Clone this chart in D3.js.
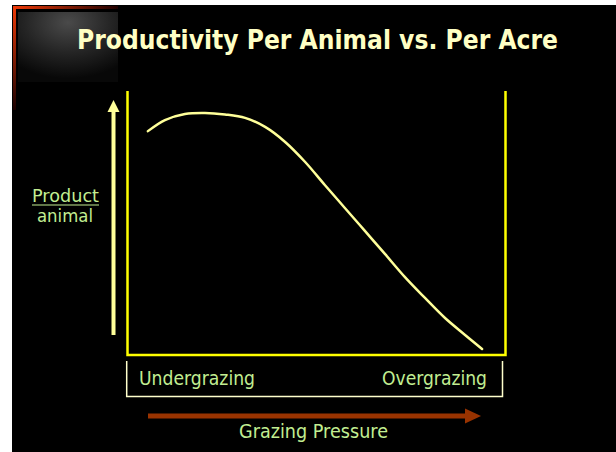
<!DOCTYPE html>
<html>
<head>
<meta charset="utf-8">
<script src="https://cdn.jsdelivr.net/npm/d3@7"></script>
<style>
  body { margin: 0; background: #fff; }
  svg { display: block; }
</style>
</head>
<body>
<div id="chart"></div>
<script>
// Chart data
var titleText = "Productivity Per Animal vs. Per Acre";
var pressure = [5.4, 9.9, 15.2, 20.5, 25.8, 31.1, 36.4, 41.7, 47.0, 52.2, 57.5, 62.8, 68.1, 73.4, 78.7, 84.0, 89.3, 93.8];
var productPerAnimal = [84.8, 89.0, 91.3, 91.7, 91.1, 89.8, 86.4, 80.7, 73.1, 64.4, 55.7, 47.0, 38.3, 29.5, 21.6, 14.0, 7.6, 2.3];
var categoryLabels = ["Undergrazing", "Overgrazing"];
var xAxisLabel = "Grazing Pressure";
var yAxisLabel = ["Product", "animal"];

var svgWidth = 616;
var svgHeight = 452;
var green = "#c2ee92";
var font = "'DejaVu Sans', Verdana, sans-serif";

var svg = d3.select("#chart").append("svg")
            .attr("width", svgWidth)
            .attr("height", svgHeight);

// Slide background
svg.append("rect").attr("x", 12).attr("y", 5)
   .attr("width", svgWidth - 12).attr("height", svgHeight - 5)
   .attr("fill", "#000");

// Decorative corner (red border + dark gray glow)
var defs = svg.append("defs");
var gH = defs.append("linearGradient").attr("id", "redH");
gH.append("stop").attr("offset", "0%").attr("stop-color", "#ee3a08");
gH.append("stop").attr("offset", "100%").attr("stop-color", "#200000");
var gV = defs.append("linearGradient").attr("id", "redV")
             .attr("x1", 0).attr("y1", 0).attr("x2", 0).attr("y2", 1);
gV.append("stop").attr("offset", "0%").attr("stop-color", "#ee3a08");
gV.append("stop").attr("offset", "100%").attr("stop-color", "#1a0000");
var gG = defs.append("radialGradient").attr("id", "glow")
             .attr("cx", "50%").attr("cy", "15%").attr("r", "80%");
gG.append("stop").attr("offset", "0%").attr("stop-color", "#4a4a4a");
gG.append("stop").attr("offset", "55%").attr("stop-color", "#242424");
gG.append("stop").attr("offset", "100%").attr("stop-color", "#080808");

svg.append("rect").attr("x", 18).attr("y", 12).attr("width", 100).attr("height", 70)
   .attr("fill", "url(#glow)");
svg.append("rect").attr("x", 13).attr("y", 6).attr("width", 105).attr("height", 3)
   .attr("fill", "url(#redH)");
svg.append("rect").attr("x", 13).attr("y", 6).attr("width", 3).attr("height", 104)
   .attr("fill", "url(#redV)");

// Title
svg.append("text")
   .attr("x", 77).attr("y", 49)
   .attr("font-family", font).attr("font-weight", "bold").attr("font-size", "26px")
   .attr("textLength", 481).attr("lengthAdjust", "spacingAndGlyphs")
   .attr("fill", "#ffffc4")
   .text(titleText);

// Scales
var x = d3.scaleLinear().domain([0, 100]).range([127.5, 505.5]);
var y = d3.scaleLinear().domain([0, 100]).range([355, 91]);

// Plot frame (open at the top)
svg.append("path")
   .attr("d", "M" + x(0) + "," + y(100) + "V" + y(0) + "H" + x(100) + "V" + y(100))
   .attr("fill", "none").attr("stroke", "#ffff00").attr("stroke-width", 2.5);

// Curve
var line = d3.line()
             .x(function(d) { return x(d[0]); })
             .y(function(d) { return y(d[1]); })
             .curve(d3.curveCatmullRom);
svg.append("path")
   .datum(d3.zip(pressure, productPerAnimal))
   .attr("d", line)
   .attr("fill", "none").attr("stroke", "#ffff99").attr("stroke-width", 2.5)
   .attr("stroke-linecap", "round");

// Vertical arrow
svg.append("line").attr("x1", 113.5).attr("x2", 113.5).attr("y1", 335).attr("y2", 110)
   .attr("stroke", "#ffff99").attr("stroke-width", 4);
svg.append("polygon").attr("points", "107.5,112 119.5,112 113.5,100")
   .attr("fill", "#ffff99");

// Y label (fraction style)
svg.append("text").attr("x", 32).attr("y", 201.5)
   .attr("font-family", font).attr("font-size", "17px")
   .attr("textLength", 67).attr("lengthAdjust", "spacingAndGlyphs")
   .attr("fill", green).text(yAxisLabel[0]);
svg.append("line").attr("x1", 32).attr("x2", 99).attr("y1", 205).attr("y2", 205)
   .attr("stroke", green).attr("stroke-width", 1.2);
svg.append("text").attr("x", 37).attr("y", 221.5)
   .attr("font-family", font).attr("font-size", "17px")
   .attr("textLength", 56).attr("lengthAdjust", "spacingAndGlyphs")
   .attr("fill", green).text(yAxisLabel[1]);

// Category box
svg.append("path")
   .attr("d", "M126.7,361V396.5H502.5V361")
   .attr("fill", "none").attr("stroke", "#ffffcc").attr("stroke-width", 1.5);
svg.append("text").attr("x", 139).attr("y", 384.5)
   .attr("font-family", font).attr("font-size", "19px")
   .attr("textLength", 116).attr("lengthAdjust", "spacingAndGlyphs")
   .attr("fill", green).text(categoryLabels[0]);
svg.append("text").attr("x", 382).attr("y", 384.5)
   .attr("font-family", font).attr("font-size", "19px")
   .attr("textLength", 105).attr("lengthAdjust", "spacingAndGlyphs")
   .attr("fill", green).text(categoryLabels[1]);

// Grazing pressure arrow
svg.append("rect").attr("x", 148).attr("y", 413.5).attr("width", 318).attr("height", 5)
   .attr("fill", "#993300");
svg.append("polygon").attr("points", "465,408.5 465,423.5 481,416")
   .attr("fill", "#993300");
svg.append("text").attr("x", 239).attr("y", 437.5)
   .attr("font-family", font).attr("font-size", "19px")
   .attr("textLength", 149).attr("lengthAdjust", "spacingAndGlyphs")
   .attr("fill", green).text(xAxisLabel);
</script>
</body>
</html>
